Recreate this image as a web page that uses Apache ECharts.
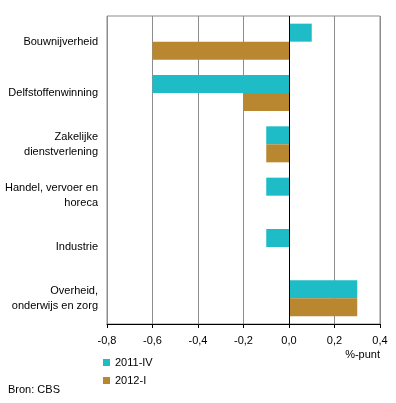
<!DOCTYPE html>
<html>
<head>
<meta charset="utf-8">
<script src="https://cdn.jsdelivr.net/npm/echarts@6/dist/echarts.min.js"></script>
<style>
	html, body { margin: 0; padding: 0; background: #fff; }
	#chart { width: 396px; height: 403px; }
</style>
</head>
<body>
<div id="chart"></div>
<script>
	var categories = ['Bouwnijverheid', 'Delfstoffenwinning', 'Zakelijke\ndienstverlening', 'Handel, vervoer en\nhoreca', 'Industrie', 'Overheid,\nonderwijs en zorg'];
	var q2011iv = [0.1, -0.6, -0.1, -0.1, -0.1, 0.3];
	var q2012i = [-0.6, -0.2, -0.1, 0, 0, 0.3];
	var seriesNames = ['2011-IV', '2012-I'];

	var font = 'Liberation Sans, Arial, sans-serif';
	var chart = echarts.init(document.getElementById('chart'));
	var option = {
		animation: false,
		textStyle: { fontFamily: font },
		grid: {
			left: 107, top: 16, right: 16, bottom: 79,
			show: true, borderColor: '#8c8c8c', borderWidth: 1
		},
		legend: {
			data: seriesNames,
			orient: 'vertical',
			left: 98, top: 352,
			itemWidth: 7, itemHeight: 7, itemGap: 7,
			icon: 'rect',
			textStyle: { fontFamily: font, fontSize: 11, color: '#000' }
		},
		xAxis: {
			type: 'value',
			min: -0.8, max: 0.4, interval: 0.2,
			axisLine: { show: true, lineStyle: { color: '#000' } },
			axisTick: { show: true, length: 4, lineStyle: { color: '#000' } },
			axisLabel: {
				color: '#000', fontSize: 11, margin: 11,
				formatter: function (v) { return v.toFixed(1).replace('.', ','); }
			},
			splitLine: { show: true, lineStyle: { color: '#8c8c8c' } }
		},
		yAxis: {
			type: 'category',
			data: categories,
			inverse: true,
			axisLine: { show: false },
			axisTick: { show: false },
			axisLabel: { color: '#000', fontSize: 11, lineHeight: 15, margin: 9, align: 'right' }
		},
		graphic: [
			{ type: 'text', right: 16, top: 349, style: { text: '%-punt', font: '11px ' + font, fill: '#000' } },
			{ type: 'text', left: 8, top: 384, style: { text: 'Bron: CBS', font: '11px ' + font, fill: '#000' } }
		],
		series: [
			{
				name: seriesNames[0], type: 'bar', data: q2011iv,
				barWidth: 18, barGap: '0%',
				itemStyle: { color: '#1ebcc6' },
				markLine: {
					silent: true, symbol: 'none', label: { show: false },
					lineStyle: { color: '#000', type: 'solid', width: 1 },
					data: [{ xAxis: 0 }]
				}
			},
			{
				name: seriesNames[1], type: 'bar', data: q2012i,
				barWidth: 18, barGap: '0%',
				itemStyle: { color: '#ba8731' }
			}
		]
	};
	chart.setOption(option);
</script>
</body>
</html>
